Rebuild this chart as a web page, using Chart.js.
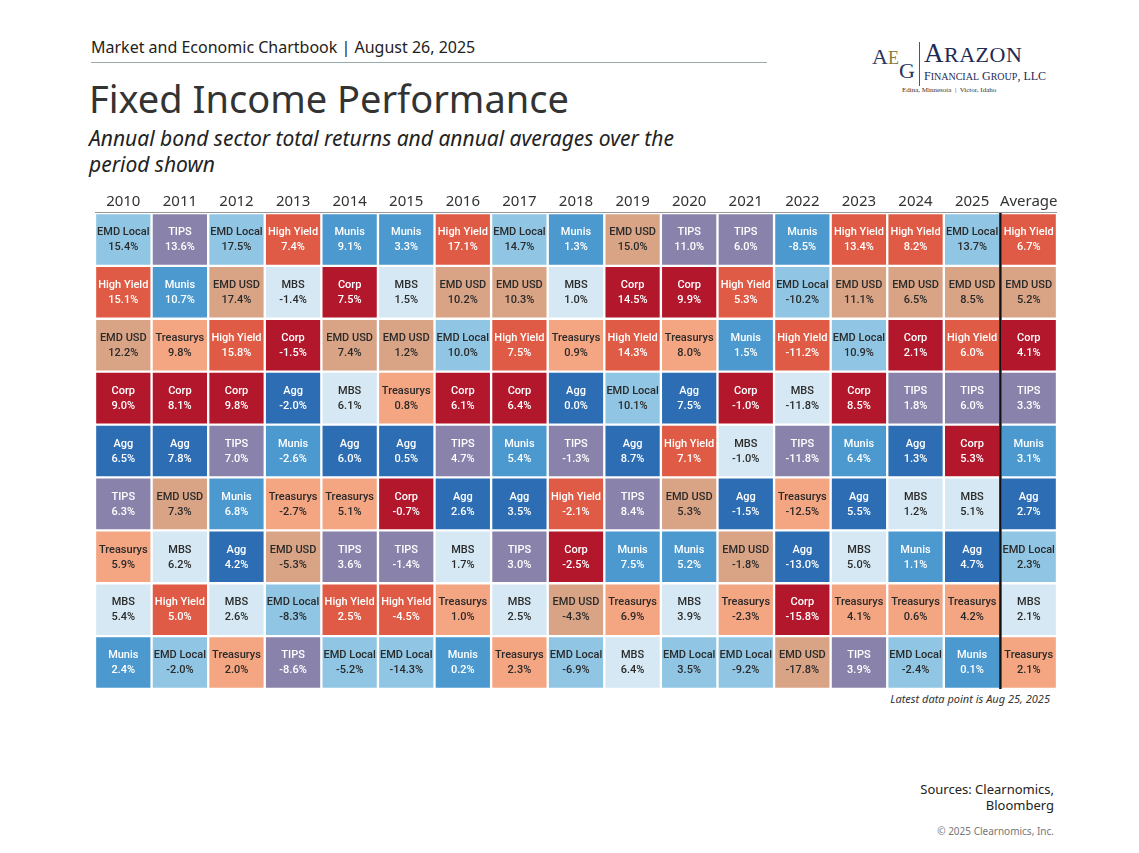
<!DOCTYPE html>
<html>
<head>
<meta charset="utf-8">
<script src="https://cdn.jsdelivr.net/npm/chart.js@4/dist/chart.umd.min.js"></script>
<style>
  body { margin:0; background:#fff; font-family:"Noto Sans", sans-serif; width:1139px; height:853px; position:relative; overflow:hidden; }
  .abs { position:absolute; }
  #hdr { left:91px; top:36px; font-size:16px; color:#222; }
  #rule { left:91px; top:62px; width:676px; height:1px; background:#9aa; }
  #title { left:89px; top:72px; font-size:38px; color:#333; }
  #sub { left:89px; top:125px; font-size:21px; font-style:italic; color:#222; line-height:26px; white-space:nowrap; }
  #wrap { left:95px; top:192px; width:962px; height:497px; }
  #note { left:800px; top:691px; width:250px; text-align:right; font-size:11px; font-style:italic; color:#333; }
  #src { left:850px; top:781px; width:204px; text-align:right; font-size:13px; color:#222; line-height:16px; }
  #copy { left:850px; top:824px; width:204px; text-align:right; font-size:10px; color:#777; }
  #logo { left:872px; top:42px; font-family:"Liberation Serif", serif; color:#1d2b55; }
</style>
</head>
<body>
<div class="abs" id="hdr">Market and Economic Chartbook | August 26, 2025</div>
<div class="abs" id="rule"></div>
<div class="abs" id="title">Fixed Income Performance</div>
<div class="abs" id="sub">Annual bond sector total returns and annual averages over the<br>period shown</div>
<div class="abs" id="logo">
  <div style="position:absolute;left:0;top:2px;font-size:22px;color:#2a3560;">A<span style="font-size:18px;color:#8a7a3a">E</span><span style="position:relative;top:14px">G</span></div>
  <div style="position:absolute;left:47px;top:0;width:1px;height:44px;background:#555"></div>
  <div style="position:absolute;left:52px;top:-4px;font-size:27px;letter-spacing:0.5px;">A<span style="font-size:22px">RAZON</span></div>
  <div style="position:absolute;left:52px;top:27px;font-size:12px;white-space:nowrap;">F<span style="font-size:10px">INANCIAL</span> G<span style="font-size:10px">ROUP</span>, LLC</div>
  <div style="position:absolute;left:30px;top:44px;font-size:7px;white-space:nowrap;color:#333;">Edina, Minnesota &nbsp;|&nbsp; Victor, Idaho</div>
</div>
<div class="abs" id="wrap"><canvas id="c"></canvas></div>
<div class="abs" id="note">Latest data point is Aug 25, 2025</div>
<div class="abs" id="src">Sources: Clearnomics,<br>Bloomberg</div>
<div class="abs" id="copy">© 2025 Clearnomics, Inc.</div>
<script>
const years = ['2010','2011','2012','2013','2014','2015','2016','2017','2018','2019','2020','2021','2022','2023','2024','2025','Average'];

const sectors = [
  ['EMD Local','High Yield','EMD USD','Corp','Agg','TIPS','Treasurys','MBS','Munis'],
  ['TIPS','Munis','Treasurys','Corp','Agg','EMD USD','MBS','High Yield','EMD Local'],
  ['EMD Local','EMD USD','High Yield','Corp','TIPS','Munis','Agg','MBS','Treasurys'],
  ['High Yield','MBS','Corp','Agg','Munis','Treasurys','EMD USD','EMD Local','TIPS'],
  ['Munis','Corp','EMD USD','MBS','Agg','Treasurys','TIPS','High Yield','EMD Local'],
  ['Munis','MBS','EMD USD','Treasurys','Agg','Corp','TIPS','High Yield','EMD Local'],
  ['High Yield','EMD USD','EMD Local','Corp','TIPS','Agg','MBS','Treasurys','Munis'],
  ['EMD Local','EMD USD','High Yield','Corp','Munis','Agg','TIPS','MBS','Treasurys'],
  ['Munis','MBS','Treasurys','Agg','TIPS','High Yield','Corp','EMD USD','EMD Local'],
  ['EMD USD','Corp','High Yield','EMD Local','Agg','TIPS','Munis','Treasurys','MBS'],
  ['TIPS','Corp','Treasurys','Agg','High Yield','EMD USD','Munis','MBS','EMD Local'],
  ['TIPS','High Yield','Munis','Corp','MBS','Agg','EMD USD','Treasurys','EMD Local'],
  ['Munis','EMD Local','High Yield','MBS','TIPS','Treasurys','Agg','Corp','EMD USD'],
  ['High Yield','EMD USD','EMD Local','Corp','Munis','Agg','MBS','Treasurys','TIPS'],
  ['High Yield','EMD USD','Corp','TIPS','Agg','MBS','Munis','Treasurys','EMD Local'],
  ['EMD Local','EMD USD','High Yield','TIPS','Corp','MBS','Agg','Treasurys','Munis'],
  ['High Yield','EMD USD','Corp','TIPS','Munis','Agg','EMD Local','MBS','Treasurys']
];

const returns = [
  [15.4,15.1,12.2,9.0,6.5,6.3,5.9,5.4,2.4],
  [13.6,10.7,9.8,8.1,7.8,7.3,6.2,5.0,-2.0],
  [17.5,17.4,15.8,9.8,7.0,6.8,4.2,2.6,2.0],
  [7.4,-1.4,-1.5,-2.0,-2.6,-2.7,-5.3,-8.3,-8.6],
  [9.1,7.5,7.4,6.1,6.0,5.1,3.6,2.5,-5.2],
  [3.3,1.5,1.2,0.8,0.5,-0.7,-1.4,-4.5,-14.3],
  [17.1,10.2,10.0,6.1,4.7,2.6,1.7,1.0,0.2],
  [14.7,10.3,7.5,6.4,5.4,3.5,3.0,2.5,2.3],
  [1.3,1.0,0.9,0.0,-1.3,-2.1,-2.5,-4.3,-6.9],
  [15.0,14.5,14.3,10.1,8.7,8.4,7.5,6.9,6.4],
  [11.0,9.9,8.0,7.5,7.1,5.3,5.2,3.9,3.5],
  [6.0,5.3,1.5,-1.0,-1.0,-1.5,-1.8,-2.3,-9.2],
  [-8.5,-10.2,-11.2,-11.8,-11.8,-12.5,-13.0,-15.8,-17.8],
  [13.4,11.1,10.9,8.5,6.4,5.5,5.0,4.1,3.9],
  [8.2,6.5,2.1,1.8,1.3,1.2,1.1,0.6,-2.4],
  [13.7,8.5,6.0,6.0,5.3,5.1,4.7,4.2,0.1],
  [6.7,5.2,4.1,3.3,3.1,2.7,2.3,2.1,2.1]
];

const colors = {
  'EMD Local': '#90c6e4', 'High Yield': '#e05b45', 'EMD USD': '#d9a486', 'Corp': '#b3172c',
  'Agg': '#2d6db4', 'TIPS': '#8983ab', 'Treasurys': '#f4a582', 'MBS': '#d5e8f3', 'Munis': '#4b99cf'
};
const darkText = ['EMD Local','EMD USD','Treasurys','MBS'];

const datasets = [];
for (let r = 0; r < 9; r++) {
  datasets.push({
    data: years.map(() => 1),
    backgroundColor: years.map((y, c) => colors[sectors[c][r]]),
    borderColor: '#fff', borderWidth: 1.5, borderSkipped: false,
    categoryPercentage: 1, barPercentage: 1
  });
}

const quilt = {
  id: 'quilt',
  afterDatasetsDraw(chart) {
    const ctx = chart.ctx, xs = chart.scales.x, area = chart.chartArea;
    ctx.save();
    ctx.textAlign = 'center';
    ctx.textBaseline = 'middle';
    chart.data.datasets.forEach((ds, r) => {
      chart.getDatasetMeta(r).data.forEach((bar, c) => {
        const name = sectors[c][r];
        const v = returns[c][r];
        const cy = (bar.y + bar.base) / 2;
        ctx.fillStyle = darkText.includes(name) ? '#2a2a2a' : '#fff';
        ctx.font = '500 11px Roboto';
        ctx.fillText(name, bar.x, cy - 7);
        ctx.fillText(v.toFixed(1) + '%', bar.x, cy + 8);
      });
    });
    // year labels
    ctx.fillStyle = '#333';
    ctx.font = '15px "Noto Sans"';
    years.forEach((y, i) => ctx.fillText(y, xs.getPixelForValue(i), area.top - 11));
    // thin rule under years
    ctx.strokeStyle = '#999'; ctx.lineWidth = 1;
    ctx.beginPath(); ctx.moveTo(area.left, area.top - 0.5); ctx.lineTo(area.right, area.top - 0.5); ctx.stroke();
    // divider before Average
    const dx = (xs.getPixelForValue(15) + xs.getPixelForValue(16)) / 2;
    ctx.strokeStyle = '#111'; ctx.lineWidth = 2.5;
    ctx.beginPath(); ctx.moveTo(dx, area.top); ctx.lineTo(dx, area.bottom); ctx.stroke();
    ctx.restore();
  }
};

new Chart(document.getElementById('c'), {
  type: 'bar',
  data: { labels: years, datasets },
  options: {
    responsive: true, maintainAspectRatio: false, animation: false,
    layout: { padding: { top: 21 } },
    plugins: { legend: { display: false }, tooltip: { enabled: false } },
    scales: {
      x: { stacked: true, display: false, offset: true },
      y: { stacked: true, display: false, reverse: true, min: 0, max: 9 }
    }
  },
  plugins: [quilt]
});
</script>
</body>
</html>
